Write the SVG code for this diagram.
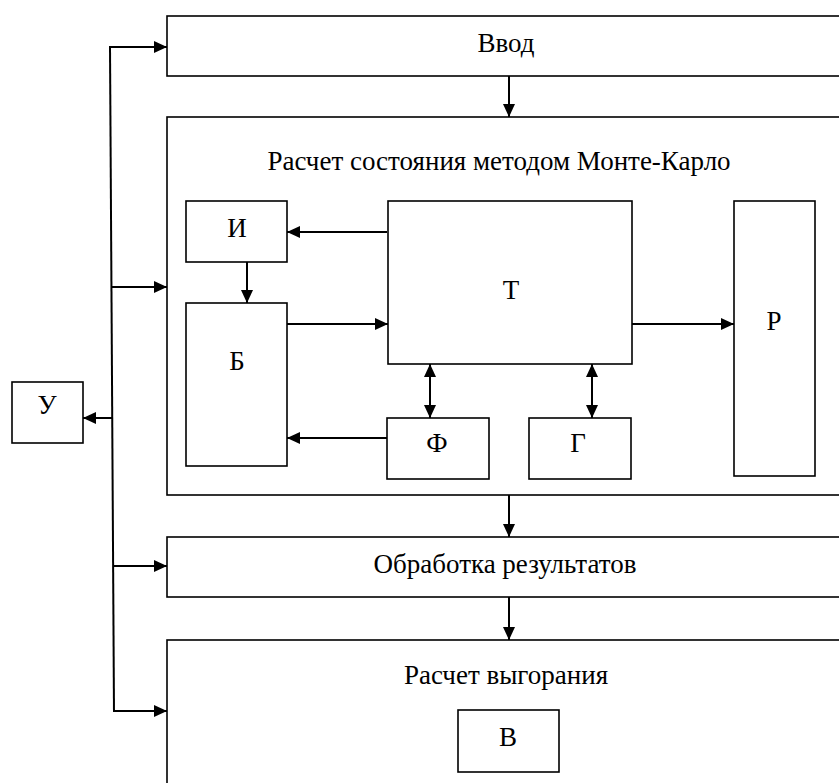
<svg xmlns="http://www.w3.org/2000/svg" width="839" height="783" viewBox="0 0 839 783">
<style>
rect{fill:#fff;stroke:#000;stroke-width:1.6}
text{font-family:'Liberation Serif','DejaVu Serif',serif;font-size:27px;fill:#000;text-anchor:middle}
.c line{stroke:#000;stroke-width:2;fill:none}
.a{marker-end:url(#ah)}
.d{marker-end:url(#ah);marker-start:url(#ah)}
</style>
<defs>
<marker id="ah" markerUnits="userSpaceOnUse" markerWidth="14" markerHeight="13" refX="13" refY="6" orient="auto-start-reverse">
<path d="M0,0 L13,6 L0,12 z" fill="#000"/>
</marker>
</defs>
<rect x="-10" y="-10" width="860" height="800" style="stroke:none"/>
<g id="vvod"><rect x="167" y="16" width="700" height="60"/><text x="506" y="52" font-family="Liberation Serif">Ввод</text></g>
<g id="mk"><rect x="167" y="117" width="700" height="378"/><text x="499" y="170" font-family="Liberation Serif">Расчет состояния методом Монте-Карло</text></g>
<g id="I"><rect x="186" y="201" width="101" height="61"/><text x="237" y="237">И</text></g>
<g id="B"><rect x="186" y="303" width="101" height="163"/><text x="237" y="370">Б</text></g>
<g id="T"><rect x="388" y="201" width="244" height="163"/><text x="511" y="299">Т</text></g>
<g id="R"><rect x="734" y="201" width="81" height="275"/><text x="774" y="330">Р</text></g>
<g id="F"><rect x="387" y="418" width="102" height="61"/><text x="437" y="452">Ф</text></g>
<g id="G"><rect x="529" y="418" width="102" height="61"/><text x="578" y="452">Г</text></g>
<g id="U"><rect x="12" y="382" width="71" height="61"/><text x="47" y="414">У</text></g>
<g id="obr"><rect x="167" y="537" width="700" height="60"/><text x="505" y="573">Обработка результатов</text></g>
<g id="vyg"><rect x="167" y="640" width="700" height="200"/><text x="506" y="684">Расчет выгорания</text></g>
<g id="V"><rect x="458" y="710" width="101" height="62"/><text x="508" y="746">В</text></g>
<g class="c" id="connectors">
<line x1="110" y1="47" x2="114" y2="712"/>
<line class="a" x1="109" y1="47" x2="167" y2="47"/>
<line class="a" x1="111" y1="287" x2="167" y2="287"/>
<line class="a" x1="113" y1="418" x2="83" y2="418"/>
<line class="a" x1="113" y1="566" x2="167" y2="566"/>
<line class="a" x1="113" y1="711" x2="167" y2="711"/>
<line class="a" x1="509" y1="76" x2="509" y2="117"/>
<line class="a" x1="509" y1="495" x2="509" y2="537"/>
<line class="a" x1="509" y1="597" x2="509" y2="640"/>
<line class="a" x1="387" y1="232" x2="287" y2="232"/>
<line class="a" x1="247" y1="262" x2="247" y2="303"/>
<line class="a" x1="287" y1="324" x2="388" y2="324"/>
<line class="a" x1="387" y1="438" x2="287" y2="438"/>
<line class="a" x1="632" y1="324" x2="734" y2="324"/>
<line class="d" x1="430" y1="364" x2="430" y2="418"/>
<line class="d" x1="592" y1="364" x2="592" y2="418"/>
</g>
</svg>
